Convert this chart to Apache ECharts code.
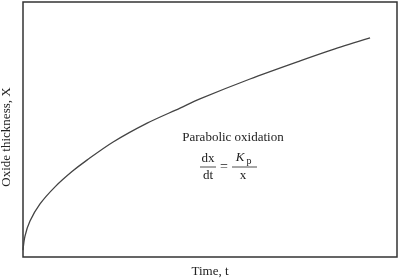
<!DOCTYPE html>
<html><head><meta charset="utf-8">
<script src="https://cdn.jsdelivr.net/npm/echarts@6/dist/echarts.min.js"></script>
<style>html,body{margin:0;padding:0;background:#fff}#c{width:400px;height:279px}</style>
</head><body><div id="c"></div>
<script>
// Time (arbitrary units, 0-100) and oxide thickness (arbitrary units, 0-100)
var timeValues = [0, 0.53, 1.87, 4.55, 8.56, 13.1, 17.1, 24.1, 33.2, 42.0, 47.3, 60.7, 74.1, 83.4, 92.8];
var thicknessValues = [2.7, 8.2, 14.1, 20.8, 27.5, 33.5, 38.0, 45.1, 52.5, 58.4, 62.0, 69.8, 76.9, 81.6, 85.9];
var xAxisTitle = 'Time, t';
var yAxisTitle = 'Oxide thickness, X';
var annotation = 'Parabolic oxidation';

var serif = '"Liberation Serif", "DejaVu Serif", serif';
var data = timeValues.map(function (t, i) { return [t, thicknessValues[i]]; });
var chart = echarts.init(document.getElementById('c'), null, {renderer: 'canvas'});
chart.setOption({
  animation: false,
  grid: {left: 23, right: 3, top: 2, bottom: 22, outerBoundsMode: 'none', containLabel: false,
    show: true, borderColor: '#333', borderWidth: 1.5, backgroundColor: 'transparent'},
  xAxis: {type: 'value', min: 0, max: 100, name: xAxisTitle, nameLocation: 'middle', nameGap: 8,
    nameTextStyle: {fontFamily: serif, fontSize: 13, color: '#222', verticalAlign: 'top'},
    axisLine: {show: false}, axisTick: {show: false}, axisLabel: {show: false}, splitLine: {show: false}},
  yAxis: {type: 'value', min: 0, max: 100, name: yAxisTitle, nameLocation: 'middle', nameGap: 10,
    nameTextStyle: {fontFamily: serif, fontSize: 13, color: '#222', padding: [0, 15, 0, 0]},
    axisLine: {show: false}, axisTick: {show: false}, axisLabel: {show: false}, splitLine: {show: false}},
  series: [{type: 'line', data: data, smooth: 0.3, showSymbol: false,
    lineStyle: {color: '#444', width: 1.3}}],
  graphic: [
    {type: 'text', style: {text: annotation, x: 233, y: 138, align: 'center', verticalAlign: 'middle', font: '13px ' + serif, fill: '#222'}},
    {type: 'text', style: {text: 'dx', x: 208, y: 159, align: 'center', verticalAlign: 'middle', font: '13px ' + serif, fill: '#222'}},
    {type: 'line', shape: {x1: 200, y1: 167, x2: 216, y2: 167}, style: {stroke: '#222', lineWidth: 0.8}},
    {type: 'text', style: {text: 'dt', x: 208, y: 176, align: 'center', verticalAlign: 'middle', font: '13px ' + serif, fill: '#222'}},
    {type: 'text', style: {text: '=', x: 224, y: 167, align: 'center', verticalAlign: 'middle', font: '14px ' + serif, fill: '#222'}},
    {type: 'text', style: {text: 'K', x: 240, y: 158, align: 'center', verticalAlign: 'middle', font: 'italic 13px ' + serif, fill: '#222'}},
    {type: 'text', style: {text: 'p', x: 249, y: 161, align: 'center', verticalAlign: 'middle', font: '10px ' + serif, fill: '#222'}},
    {type: 'line', shape: {x1: 232, y1: 167, x2: 257, y2: 167}, style: {stroke: '#222', lineWidth: 0.8}},
    {type: 'text', style: {text: 'x', x: 243, y: 176, align: 'center', verticalAlign: 'middle', font: '13px ' + serif, fill: '#222'}}
  ]
});
</script></body></html>
